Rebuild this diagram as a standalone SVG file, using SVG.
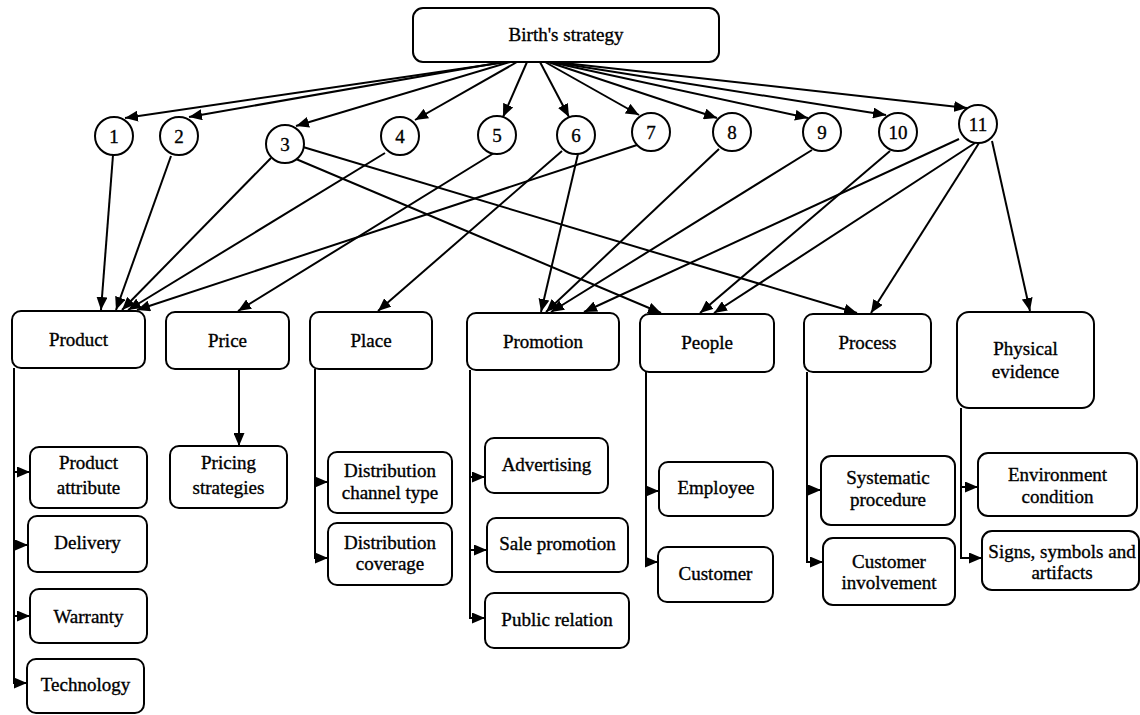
<svg xmlns="http://www.w3.org/2000/svg" width="1140" height="715" viewBox="0 0 1140 715">
<style>
.box{fill:#fff;stroke:#000;stroke-width:2}
.t{font-family:"Liberation Serif","Times New Roman",serif;font-size:19px;text-anchor:middle;fill:#000;stroke:#000;stroke-width:0.35}
.c{fill:none;stroke:#000;stroke-width:2;marker-end:url(#ah)}
.v{fill:none;stroke:#000;stroke-width:2}
</style>
<defs>
<marker id="ah" markerUnits="userSpaceOnUse" markerWidth="13" markerHeight="11" refX="13" refY="5.5" orient="auto"><path d="M0,0 L13,5.5 L0,11 z" fill="#000"/></marker>
</defs>
<rect width="1140" height="715" fill="#fff"/>
<g id="connectors">
<path class="c" d="M507,62 L125,118"/>
<path class="c" d="M503,62 L189,117"/>
<path class="c" d="M510,62 L296,126"/>
<path class="c" d="M517,62 L415,120"/>
<path class="c" d="M527,62 L503,117"/>
<path class="c" d="M540,62 L569,117"/>
<path class="c" d="M545,62 L639,115"/>
<path class="c" d="M548,62 L717,118"/>
<path class="c" d="M550,62 L808,118"/>
<path class="c" d="M552,62 L886,115"/>
<path class="c" d="M555,62 L967,108"/>
<path class="c" d="M113,155 L101,310"/>
<path class="c" d="M171,156 L116,310"/>
<path class="c" d="M271,158 L122,310"/>
<path class="c" d="M385,153 L128,310"/>
<path class="c" d="M637,145 L137,310"/>
<path class="c" d="M494,153 L238,311"/>
<path class="c" d="M562,151 L378,311"/>
<path class="c" d="M578,154 L541,312"/>
<path class="c" d="M296,159 L661,313"/>
<path class="c" d="M303,147 L857,313"/>
<path class="c" d="M719,149 L546,312"/>
<path class="c" d="M812,150 L551,312"/>
<path class="c" d="M959,139 L584,312"/>
<path class="c" d="M890,151 L700,313"/>
<path class="c" d="M975,143 L714,313"/>
<path class="c" d="M979,143 L871,313"/>
<path class="c" d="M992,141 L1030,311"/>
<path class="v" d="M14,368 V683"/>
<path class="c" d="M13,472 H30"/>
<path class="c" d="M13,545 H28"/>
<path class="c" d="M13,616 H30"/>
<path class="c" d="M13,683 H27"/>
<path class="c" d="M239,369 V446"/>
<path class="v" d="M315,369 V558"/>
<path class="c" d="M314,482 H328"/>
<path class="c" d="M314,558 H328"/>
<path class="v" d="M470,370 V618"/>
<path class="c" d="M469,477 H485"/>
<path class="c" d="M469,550 H487"/>
<path class="c" d="M469,618 H485"/>
<path class="v" d="M646,372 V562"/>
<path class="c" d="M645,491 H659"/>
<path class="c" d="M645,562 H658"/>
<path class="v" d="M807,372 V562"/>
<path class="c" d="M806,490 H821"/>
<path class="c" d="M806,562 H823"/>
<path class="v" d="M961,408 V558"/>
<path class="c" d="M960,487 H978"/>
<path class="c" d="M960,558 H982"/>
</g>
<g id="birth"><rect class="box" x="413" y="8" width="306" height="54" rx="10"/><text class="t" x="566" y="41">Birth's strategy</text></g>
<g id="c1"><circle class="box" cx="114" cy="136" r="19"/><text class="t" x="114" y="142.5">1</text></g>
<g id="c2"><circle class="box" cx="179" cy="136" r="19"/><text class="t" x="179" y="142.5">2</text></g>
<g id="c3"><circle class="box" cx="285" cy="144" r="19"/><text class="t" x="285" y="150.5">3</text></g>
<g id="c4"><circle class="box" cx="400" cy="136" r="19"/><text class="t" x="400" y="142.5">4</text></g>
<g id="c5"><circle class="box" cx="497" cy="135" r="19"/><text class="t" x="497" y="141.5">5</text></g>
<g id="c6"><circle class="box" cx="576" cy="135" r="19"/><text class="t" x="576" y="141.5">6</text></g>
<g id="c7"><circle class="box" cx="651" cy="132" r="19"/><text class="t" x="651" y="138.5">7</text></g>
<g id="c8"><circle class="box" cx="732" cy="132" r="19"/><text class="t" x="732" y="138.5">8</text></g>
<g id="c9"><circle class="box" cx="822" cy="132" r="19"/><text class="t" x="822" y="138.5">9</text></g>
<g id="c10"><circle class="box" cx="898" cy="132" r="19"/><text class="t" x="898" y="138.5">10</text></g>
<g id="c11"><circle class="box" cx="978" cy="124" r="19"/><text class="t" x="978" y="130.5">11</text></g>
<g id="product"><rect class="box" x="12" y="311" width="133" height="57" rx="9"/><text class="t" x="78.5" y="346">Product</text></g>
<g id="price"><rect class="box" x="166" y="312" width="123" height="57" rx="9"/><text class="t" x="227.5" y="347">Price</text></g>
<g id="place"><rect class="box" x="310" y="312" width="122" height="57" rx="9"/><text class="t" x="371" y="347">Place</text></g>
<g id="promotion"><rect class="box" x="467" y="313" width="152" height="57" rx="9"/><text class="t" x="543" y="348">Promotion</text></g>
<g id="people"><rect class="box" x="640" y="314" width="134" height="58" rx="9"/><text class="t" x="707" y="349">People</text></g>
<g id="process"><rect class="box" x="804" y="314" width="127" height="58" rx="9"/><text class="t" x="867.5" y="349">Process</text></g>
<g id="physical"><rect class="box" x="957" y="312" width="137" height="96" rx="12"/><text class="t" x="1025.5" y="355">Physical</text><text class="t" x="1025.5" y="378">evidence</text></g>
<g id="product-attribute"><rect class="box" x="30" y="447" width="117" height="61" rx="9"/><text class="t" x="88.5" y="469">Product</text><text class="t" x="88.5" y="494">attribute</text></g>
<g id="delivery"><rect class="box" x="28" y="516" width="119" height="56" rx="9"/><text class="t" x="87.5" y="549">Delivery</text></g>
<g id="warranty"><rect class="box" x="30" y="589" width="117" height="54" rx="9"/><text class="t" x="88.5" y="623">Warranty</text></g>
<g id="technology"><rect class="box" x="27" y="659" width="117" height="54" rx="9"/><text class="t" x="85.5" y="691">Technology</text></g>
<g id="pricing"><rect class="box" x="170" y="446" width="117" height="62" rx="9"/><text class="t" x="228.5" y="469">Pricing</text><text class="t" x="228.5" y="494">strategies</text></g>
<g id="dist-type"><rect class="box" x="328" y="452" width="124" height="61" rx="9"/><text class="t" x="390" y="477">Distribution</text><text class="t" x="390" y="499">channel type</text></g>
<g id="dist-coverage"><rect class="box" x="328" y="523" width="124" height="62" rx="9"/><text class="t" x="390" y="549">Distribution</text><text class="t" x="390" y="570">coverage</text></g>
<g id="advertising"><rect class="box" x="485" y="438" width="123" height="55" rx="9"/><text class="t" x="546.5" y="471">Advertising</text></g>
<g id="sale-promotion"><rect class="box" x="487" y="518" width="141" height="54" rx="9"/><text class="t" x="557.5" y="550">Sale promotion</text></g>
<g id="public-relation"><rect class="box" x="485" y="593" width="144" height="55" rx="9"/><text class="t" x="557" y="626">Public relation</text></g>
<g id="employee"><rect class="box" x="659" y="462" width="114" height="54" rx="9"/><text class="t" x="716" y="494">Employee</text></g>
<g id="customer"><rect class="box" x="658" y="547" width="115" height="55" rx="9"/><text class="t" x="715.5" y="580">Customer</text></g>
<g id="systematic"><rect class="box" x="821" y="456" width="134" height="69" rx="10"/><text class="t" x="888" y="484">Systematic</text><text class="t" x="888" y="506">procedure</text></g>
<g id="customer-involvement"><rect class="box" x="823" y="538" width="132" height="67" rx="10"/><text class="t" x="889" y="568">Customer</text><text class="t" x="889" y="589">involvement</text></g>
<g id="environment"><rect class="box" x="978" y="453" width="159" height="63" rx="10"/><text class="t" x="1057.5" y="481">Environment</text><text class="t" x="1057.5" y="503">condition</text></g>
<g id="signs"><rect class="box" x="982" y="531" width="157" height="59" rx="10"/><text class="t" x="1062" y="558">Signs, symbols and</text><text class="t" x="1062" y="579">artifacts</text></g>
</svg>
